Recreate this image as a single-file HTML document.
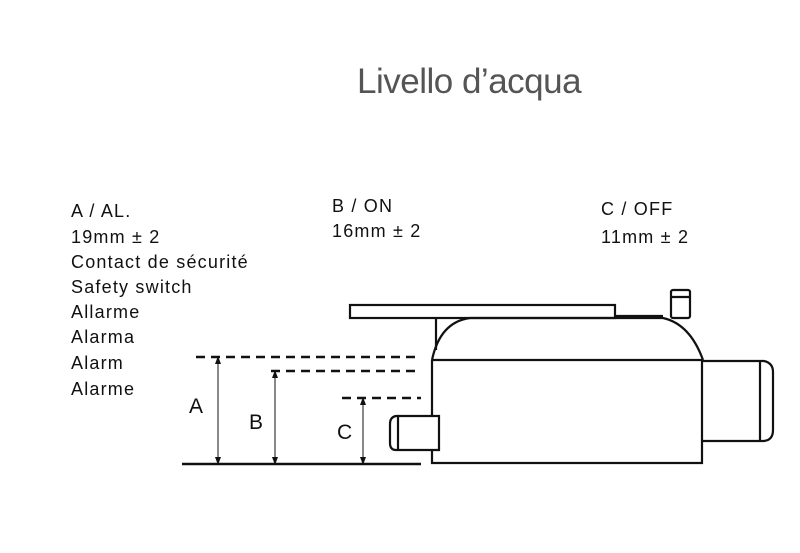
<!DOCTYPE html>
<html><head><meta charset="utf-8"><style>
body{margin:0;background:#fff;width:800px;height:553px;overflow:hidden;position:relative;font-family:"Liberation Sans",sans-serif;}
.t{position:absolute;font-size:18px;color:#111;line-height:1;letter-spacing:1.2px;}
</style></head><body>
<div class="t" style="left:357px;top:64px;font-size:35px;color:#555;letter-spacing:-0.5px;">Livello d’acqua</div>
<div class="t" style="left:71px;top:202px">A / AL.</div>
<div class="t" style="left:71px;top:228px">19mm ± 2</div>
<div class="t" style="left:71px;top:253px">Contact de sécurité</div>
<div class="t" style="left:71px;top:278px">Safety switch</div>
<div class="t" style="left:71px;top:303px">Allarme</div>
<div class="t" style="left:71px;top:328px">Alarma</div>
<div class="t" style="left:71px;top:354px">Alarm</div>
<div class="t" style="left:71px;top:380px">Alarme</div>
<div class="t" style="left:332px;top:197px">B / ON</div>
<div class="t" style="left:332px;top:222px">16mm ± 2</div>
<div class="t" style="left:601px;top:200px">C / OFF</div>
<div class="t" style="left:601px;top:228px">11mm ± 2</div>
<div class="t" style="left:189px;top:396px;font-size:21px;letter-spacing:0">A</div>
<div class="t" style="left:249px;top:412px;font-size:21px;letter-spacing:0">B</div>
<div class="t" style="left:337px;top:422px;font-size:21px;letter-spacing:0">C</div>
<svg width="800" height="553" style="position:absolute;left:0;top:0" fill="none" stroke="#111">
<defs><marker id="a" markerWidth="8" markerHeight="8" refX="4" refY="4" orient="auto-start-reverse"><path d="M0,1 L8,4 L0,7" fill="#111" stroke="none"/></marker></defs>
<g stroke-width="2.5" stroke-dasharray="9,6">
<line x1="196" y1="357" x2="421" y2="357"/>
<line x1="271" y1="371" x2="421" y2="371"/>
<line x1="342" y1="398" x2="421" y2="398"/>
</g>
<line x1="182" y1="464" x2="421" y2="464" stroke-width="2.5"/>
<g stroke-width="1" marker-start="url(#a)" marker-end="url(#a)">
<line x1="218" y1="360" x2="218" y2="461"/>
<line x1="275" y1="374" x2="275" y2="461"/>
<line x1="363" y1="401" x2="363" y2="461"/>
</g>
<g stroke-width="2.2">
<rect x="350" y="305" width="265" height="13"/>
<line x1="615" y1="316" x2="663" y2="316"/>
<path d="M432,360 Q440,322 470,318 L663,318 Q690,324 703,360"/>
<line x1="436" y1="318" x2="436" y2="350"/>
<path d="M432,360 L432,416 M432,450 L432,463 L702,463 L702,360 L432,360"/>
<rect x="671" y="290" width="19" height="28" rx="2"/>
<line x1="671" y1="297" x2="690" y2="297"/>
<path d="M702,361 L764,361 Q773,363 773,372 L773,430 Q773,440 764,441 L702,441"/>
<line x1="760" y1="361" x2="760" y2="441"/>
<path d="M439,416 L396,416 Q390,417 390,424 L390,443 Q390,450 396,450 L439,450 Z"/>
<line x1="398" y1="416" x2="398" y2="450"/>
</g>
</svg>
</body></html>
